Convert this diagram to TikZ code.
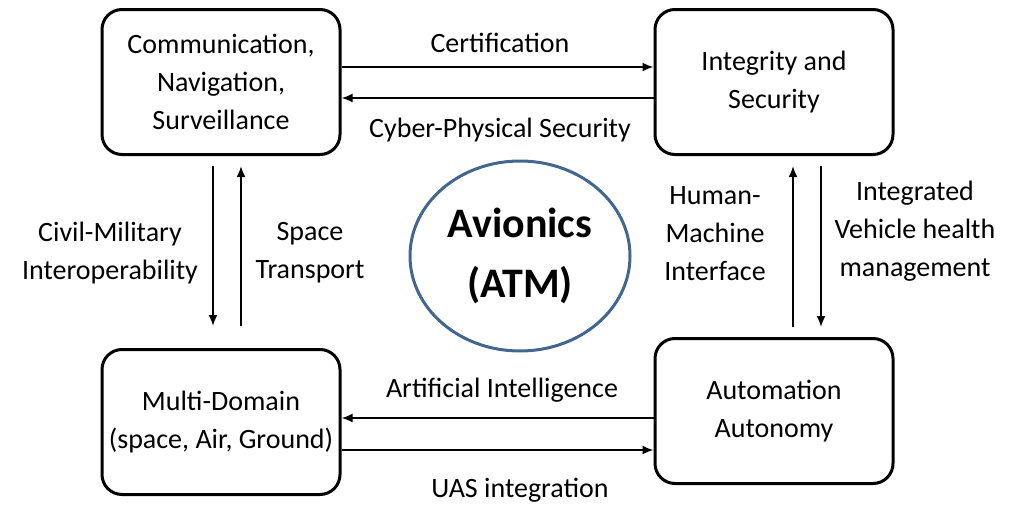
\documentclass[tikz,border=0pt]{standalone}
\usepackage{fontspec}
\setmainfont{Carlito}
\usepackage{tikz}
\usetikzlibrary{calc}
\usetikzlibrary{arrows.meta, shapes.geometric}
\definecolor{ellblue}{HTML}{41668F}
\tikzset{box/.style={draw=black, line width=3pt, rounded corners=20pt, minimum width=238pt, minimum height=145pt, align=center, font=\fontsize{28}{38}\selectfont},
        lbl/.style={align=center, font=\fontsize{28}{38}\selectfont},
        con/.style={draw=black, line width=1.8pt, -{Latex[length=11pt,width=9pt]}}}

\begin{document}
\begin{tikzpicture}[x=1pt, y=-1pt]
    \useasboundingbox (0,0) rectangle (1020,506);

    % the four corner boxes
    \node[box] (cns) at (221,82)  {Communication,\\Navigation,\\Surveillance};
    \node[box] (ins) at (774,82)  {Integrity and\\Security};
    \node[box] (mdo) at (221,422) {Multi-Domain\\(space, Air, Ground)};
    \node[box] (aut) at (774,411) {Automation\\Autonomy};

    % centre
    \node[draw=ellblue, line width=3pt, ellipse, minimum width=220pt, minimum height=190pt, align=center,
          font=\fontsize{42}{60}\selectfont\bfseries] (avi) at (520,256) {Avionics\\(ATM)};

    % horizontal connectors
    \draw[con] ([yshift=15pt]cns.east) -- ([yshift=15pt]cns.east -| ins.west);
    \draw[con] ([yshift=-16pt]ins.west) -- ([yshift=-16pt]ins.west -| cns.east);
    \draw[con] ([yshift=-7pt]aut.west) -- ([yshift=-7pt]aut.west -| mdo.east);
    \draw[con] ([yshift=-28pt]mdo.east) -- ([yshift=-28pt]mdo.east -| aut.west);

    % vertical connectors
    \draw[con] ([xshift=-8pt,yshift=-10pt]cns.south) -- ([xshift=-8pt,yshift=22pt]mdo.north);
    \draw[con] ([xshift=20pt,yshift=22pt]mdo.north) -- ([xshift=20pt,yshift=-10pt]cns.south);
    \draw[con] ([xshift=19pt,yshift=10pt]aut.north) -- ([xshift=19pt,yshift=-10pt]ins.south);
    \draw[con] ([xshift=47pt,yshift=-10pt]ins.south) -- ([xshift=47pt,yshift=10pt]aut.north);

    % connector labels
    \node[lbl] (cert) at (500,43)  {Certification};
    \node[lbl] (cyb)  at (500,130) {Cyber-Physical Security};
    \node[lbl] (civ)  at (110,253) {Civil-Military\\Interoperability};
    \node[lbl] (spc)  at (310,253) {Space\\Transport};
    \node[lbl] (hmi)  at (715,234) {Human-\\Machine\\Interface};
    \node[lbl] (ivh)  at (915,231) {Integrated\\Vehicle health\\management};
    \node[lbl] (ai)   at (502,390) {Artificial Intelligence};
    \node[lbl] (uas)  at (520,490) {UAS integration};
\end{tikzpicture}
\end{document}
